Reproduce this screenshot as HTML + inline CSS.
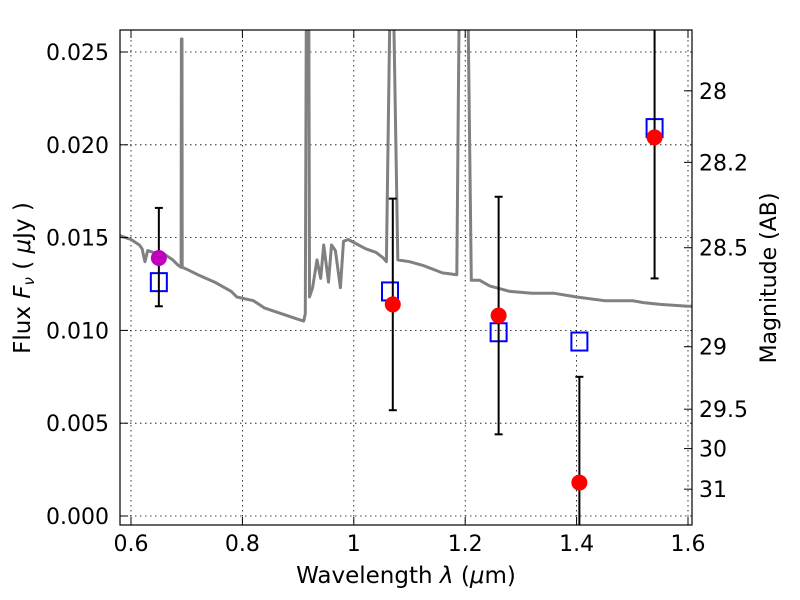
<!DOCTYPE html>
<html><head><meta charset="utf-8"><style>
body{margin:0;background:#fff}
svg{display:block;font-family:"DejaVu Sans","Liberation Sans",sans-serif}
</style></head><body>
<svg id="chart" width="800" height="600" xmlns="http://www.w3.org/2000/svg">
<defs><clipPath id="clip"><rect x="120" y="30" width="572" height="495"/></clipPath></defs>
<rect x="0" y="0" width="800" height="600" fill="#fff"/>
<g id="grid"></g>
<g id="plot" clip-path="url(#clip)"></g>
<rect x="120" y="30" width="572" height="495" fill="none" stroke="#000" stroke-width="1.2"/>
<g id="ticks"></g>
<text x="406" y="583" font-size="23" text-anchor="middle">Wavelength  <tspan font-style="italic">λ</tspan> (<tspan font-style="italic">μ</tspan>m)</text>
<text transform="translate(30,278) rotate(-90)" font-size="23" text-anchor="middle">Flux  <tspan font-style="italic">F</tspan><tspan font-size="15" font-style="italic" dy="4">ν</tspan><tspan dy="-4">  ( <tspan font-style="italic">μ</tspan>Jy )</tspan></text>
<text transform="translate(776,278) rotate(-90)" font-size="22" text-anchor="middle">Magnitude (AB)</text>
</svg>
<script>
const xTicks=[0.6,0.8,1.0,1.2,1.4,1.6];
const xTickLabels=["0.6","0.8","1","1.2","1.4","1.6"];
const yTicks=[0,0.005,0.01,0.015,0.02,0.025];
const yTickLabels=["0.000","0.005","0.010","0.015","0.020","0.025"];
const magTicks=[28,28.2,28.5,29,29.5,30,31];
const magTickLabels=["28","28.2","28.5","29","29.5","30","31"];
const specWave=[0.58,0.60,0.615,0.62,0.625,0.63,0.64,0.66,0.675,0.685,0.69,0.6905,0.6915,0.692,0.7,0.72,0.75,0.78,0.79,0.82,0.84,0.86,0.88,0.9,0.91,0.913,0.915,0.919,0.9205,0.926,0.934,0.9405,0.946,0.9545,0.96,0.967,0.976,0.9815,0.99,1.021,1.04,1.053,1.0585,1.066,1.070,1.079,1.10,1.124,1.159,1.185,1.19,1.204,1.211,1.226,1.244,1.28,1.32,1.36,1.40,1.45,1.5,1.52,1.55,1.6,1.61];
const specFlux=[0.0151,0.0149,0.0146,0.0144,0.0137,0.0143,0.0142,0.0141,0.0138,0.0135,0.0134,0.0257,0.0257,0.0134,0.0133,0.0130,0.0126,0.0121,0.0118,0.0116,0.0112,0.0110,0.0108,0.0106,0.0105,0.0109,0.030,0.030,0.0118,0.0123,0.0138,0.0128,0.0146,0.0126,0.0146,0.0143,0.0123,0.0148,0.0149,0.0144,0.0142,0.0139,0.0137,0.030,0.030,0.0138,0.0137,0.0135,0.0131,0.0130,0.030,0.030,0.0127,0.0127,0.0124,0.0121,0.0120,0.0120,0.0118,0.0116,0.0116,0.0115,0.0114,0.0113,0.0113];
const modelWave=[0.65,1.065,1.26,1.405,1.54];
const modelFlux=[0.0126,0.0121,0.0099,0.0094,0.0209];
const obsWave=[0.65,1.07,1.26,1.405,1.54];
const obsFlux=[0.0139,0.0114,0.0108,0.0018,0.0204];
const obsLo=[0.0113,0.0057,0.0044,-0.004,0.0128];
const obsHi=[0.0166,0.0171,0.0172,0.0075,0.030];
const obsColor=["#bf00bf","red","red","red","red"];
const X=v=>131+(v-0.6)*557;
const Y=v=>516-v*18560;
const M=m=>Y(Math.pow(10,-0.4*(m-23.9)));
const NS="http://www.w3.org/2000/svg";
function mk(tag,attrs,parent,txt){const e=document.createElementNS(NS,tag);for(const k in attrs)e.setAttribute(k,attrs[k]);if(txt!==undefined)e.textContent=txt;parent.appendChild(e);return e;}
const grid=document.getElementById('grid'),plot=document.getElementById('plot'),ticks=document.getElementById('ticks');
xTicks.forEach((t,i)=>{
  const g=mk('line',{x1:X(t),x2:X(t),y1:30,y2:525,stroke:'#000','stroke-width':0.8,'stroke-dasharray':'1.5,3.5'},grid);
  
  mk('line',{x1:X(t),x2:X(t),y1:525,y2:517,stroke:'#000'},ticks);
  mk('line',{x1:X(t),x2:X(t),y1:30,y2:38,stroke:'#000'},ticks);
  const l=mk('text',{x:X(t),y:551,'font-size':22,'text-anchor':'middle'},ticks,xTickLabels[i]);
  
});
yTicks.forEach((t,i)=>{
  const g=mk('line',{x1:120,x2:692,y1:Y(t),y2:Y(t),stroke:'#000','stroke-width':0.8,'stroke-dasharray':'1.5,3.5'},grid);
  
  mk('line',{x1:120,x2:128,y1:Y(t),y2:Y(t),stroke:'#000'},ticks);
  const l=mk('text',{x:109,y:Y(t)+8,'font-size':22,'text-anchor':'end'},ticks,yTickLabels[i]);
  
});
magTicks.forEach((t,i)=>{
  mk('line',{x1:692,x2:684,y1:M(t),y2:M(t),stroke:'#000'},ticks);
  const l=mk('text',{x:699,y:M(t)+8,'font-size':22},ticks,magTickLabels[i]);
  
});
const pts=specWave.map((w,i)=>X(w).toFixed(1)+','+Y(specFlux[i]).toFixed(1)).join(' ');
const sp=mk('polyline',{points:pts,fill:'none',stroke:'#808080','stroke-width':3,'stroke-linejoin':'round'},plot);

modelWave.forEach((w,i)=>{
  const r=mk('rect',{x:X(w)-8,y:Y(modelFlux[i])-9,width:16,height:18,fill:'none',stroke:'#0000ff','stroke-width':2},plot);
  
});
obsWave.forEach((w,i)=>{
  const x=X(w);
  const g=mk('g',{},plot);
  
  mk('line',{x1:x,x2:x,y1:Y(obsLo[i]),y2:Y(obsHi[i]),stroke:'#000','stroke-width':2},g);
  mk('line',{x1:x-4,x2:x+4,y1:Y(obsLo[i]),y2:Y(obsLo[i]),stroke:'#000','stroke-width':2},g);
  mk('line',{x1:x-4,x2:x+4,y1:Y(obsHi[i]),y2:Y(obsHi[i]),stroke:'#000','stroke-width':2},g);
  const c=mk('circle',{cx:x,cy:Y(obsFlux[i]),r:8,fill:obsColor[i]},plot);
  
});
</script>
</body></html>
